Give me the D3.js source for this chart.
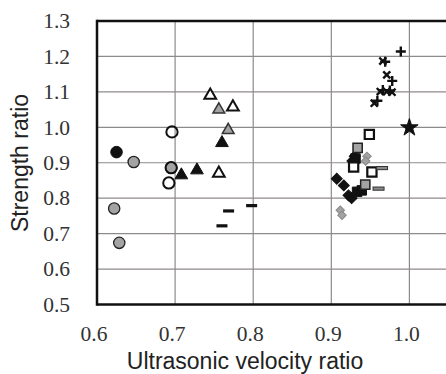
<!DOCTYPE html>
<html><head><meta charset="utf-8">
<script src="https://cdn.jsdelivr.net/npm/d3@7"></script>
<style>
html,body{margin:0;padding:0;background:#fff;}
svg{display:block;}
.serif{font-family:"Liberation Serif","Times New Roman",serif;}
.sans{font-family:"Liberation Sans",Arial,sans-serif;}
</style></head>
<body>
<svg id="chart" width="446" height="374"></svg>
<script>
// ---- data ----
const xTicks = [0.6, 0.7, 0.8, 0.9, 1.0];
const yTicks = [0.5, 0.6, 0.7, 0.8, 0.9, 1.0, 1.1, 1.2, 1.3];
const xTitle = "Ultrasonic velocity ratio";
const yTitle = "Strength ratio";

const grayCircle  = [[0.647,0.902],[0.622,0.771],[0.6285,0.674],[0.695,0.886]];
const blackCircle = [[0.625,0.930]];
const openCircle  = [[0.696,0.987],[0.695,0.886],[0.692,0.843]];
const blackTri    = [[0.708,0.865],[0.728,0.879],[0.760,0.956]];
const grayTri     = [[0.756,1.050],[0.768,0.992]];
const openTri     = [[0.745,1.090],[0.774,1.057],[0.756,0.870]];
const blackDash   = [[0.760,0.722],[0.7685,0.764],[0.798,0.779]];
const grayDash    = [[0.965,0.885],[0.9605,0.827]];
const openSquare  = [[0.9487,0.980],[0.9286,0.888],[0.952,0.874]];
const graySquare  = [[0.9337,0.942],[0.9435,0.838]];
const blackSquare = [[0.931,0.912],[0.933,0.818],[0.939,0.822]];
const blackDiamond= [[0.907,0.855],[0.916,0.836],[0.922,0.808],[0.926,0.800],[0.930,0.918],[0.927,0.905]];
const grayDiamond = [[0.9457,0.918],[0.944,0.905],[0.9115,0.766],[0.9137,0.752]];
const xMark       = [[0.966,1.187],[0.971,1.148],[0.9627,1.101],[0.971,1.101],[0.9777,1.099],[0.955,1.068]];
const plusMark    = [[0.989,1.214],[0.969,1.185],[0.978,1.131],[0.966,1.105],[0.975,1.104],[0.959,1.075]];
const starMark    = [[1.0,0.999]];

// ---- layout ----
const svg = d3.select("#chart");
const L = 97, T = 21, B = 304.5;
const x = d3.scaleLinear().domain([0.6, 1.1]).range([L, L + 390.5]);
const y = d3.scaleLinear().domain([0.5, 1.3]).range([B, T]);
const gridColor = "#8f8a8a";
const GRAY = "#a3a3a3";

// grid
svg.append("g").selectAll("line").data(xTicks.slice(1)).join("line")
  .attr("x1", d => x(d)).attr("x2", d => x(d)).attr("y1", T).attr("y2", B)
  .attr("stroke", gridColor).attr("stroke-width", 1.2);
svg.append("g").selectAll("line").data(yTicks.slice(1, -1)).join("line")
  .attr("x1", L).attr("x2", 446).attr("y1", d => y(d)).attr("y2", d => y(d))
  .attr("stroke", gridColor).attr("stroke-width", 1.2);

// frame
svg.append("line").attr("x1", L).attr("x2", 446).attr("y1", T).attr("y2", T).attr("stroke", "#111").attr("stroke-width", 2.5);
svg.append("line").attr("x1", L).attr("x2", 446).attr("y1", B).attr("y2", B).attr("stroke", "#111").attr("stroke-width", 2.5);
svg.append("line").attr("x1", L).attr("x2", L).attr("y1", T - 1.2).attr("y2", B + 1.2).attr("stroke", "#111").attr("stroke-width", 2.5);

// tick labels
svg.append("g").selectAll("text").data(yTicks).join("text")
  .attr("class", "serif")
  .attr("x", 70).attr("y", d => y(d)).attr("dy", "0.34em")
  .attr("text-anchor", "end").attr("font-size", 21.5)
  .attr("fill", "#333").text(d => d.toFixed(1));
svg.append("g").selectAll("text").data(xTicks).join("text")
  .attr("class", "serif")
  .attr("x", d => x(d) - 3).attr("y", 341)
  .attr("text-anchor", "middle").attr("font-size", 21.5)
  .attr("fill", "#333").text(d => d.toFixed(1));

// titles
svg.append("text").attr("class", "sans").attr("x", 245).attr("y", 369).attr("text-anchor", "middle")
  .attr("font-size", 23).attr("fill", "#222").text(xTitle);
svg.append("text").attr("class", "sans").attr("transform", "translate(28,163) rotate(-90)").attr("text-anchor", "middle")
  .attr("font-size", 23).attr("fill", "#222").text(yTitle);

// marks
const g = svg.append("g");
function sym(data, type, size, fill, stroke, sw, rot) {
  g.append("g").selectAll("path").data(data).join("path")
    .attr("transform", d => `translate(${x(d[0])},${y(d[1])}) rotate(${rot || 0})`)
    .attr("d", d3.symbol().type(type).size(size))
    .attr("fill", fill).attr("stroke", stroke).attr("stroke-width", sw);
}
function dash(data, fill, stroke) {
  g.append("g").selectAll("rect").data(data).join("rect")
    .attr("x", d => x(d[0]) - 5.5).attr("y", d => y(d[1]) - 1.6)
    .attr("width", 11).attr("height", 3.2)
    .attr("fill", fill).attr("stroke", stroke).attr("stroke-width", stroke === "none" ? 0 : 1);
}
function cross(data, rot) {
  const s = 5;
  g.append("g").selectAll("path").data(data).join("path")
    .attr("transform", d => `translate(${x(d[0])},${y(d[1])}) rotate(${rot})`)
    .attr("d", `M${-s},0L${s},0M0,${-s}L0,${s}`)
    .attr("fill", "none").attr("stroke", "#111").attr("stroke-width", 2.4);
}

sym(grayCircle, d3.symbolCircle, 100, GRAY, "#222", 1.3);
sym(openCircle, d3.symbolCircle, 100, "none", "#111", 2);
sym(blackCircle, d3.symbolCircle, 105, "#111", "#111", 1);
sym(blackTri, d3.symbolTriangle, 70, "#111", "#111", 1);
sym(grayTri, d3.symbolTriangle, 60, GRAY, "#333", 1.5);
sym(openTri, d3.symbolTriangle, 60, "#fff", "#111", 2);
dash(blackDash, "#111", "none");
sym(blackDiamond, d3.symbolSquare, 60, "#111", "#111", 1, 45);
sym(grayDiamond, d3.symbolSquare, 36, GRAY, "#888", 1, 45);
sym(blackSquare, d3.symbolSquare, 90, "#111", "#111", 1);
sym(graySquare, d3.symbolSquare, 85, GRAY, "#222", 1.5);
sym(openSquare, d3.symbolSquare, 85, "#fff", "#111", 2.2);
dash(grayDash, "#888", "#333");
cross(xMark, 45);
cross(plusMark, 0);
sym(starMark, d3.symbolStar, 95, "#111", "#111", 1);
</script>
</body></html>
